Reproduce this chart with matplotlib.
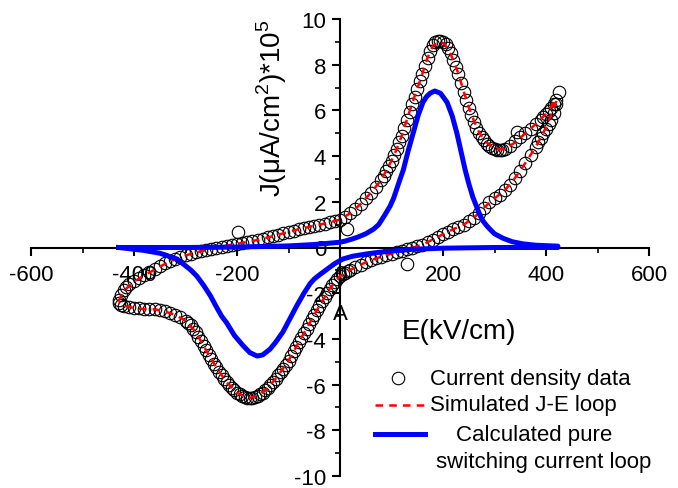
import matplotlib
matplotlib.use("Agg")
import matplotlib.pyplot as plt
from matplotlib.ticker import MultipleLocator, FixedLocator

plt.rcParams['font.family'] = ['Liberation Sans', 'DejaVu Sans']
plt.rcParams['axes.unicode_minus'] = False
plt.rcParams['mathtext.fontset'] = 'custom'
plt.rcParams['mathtext.rm'] = 'Liberation Sans'

# Measured current density, field sweep up (kV/cm, uA/cm^2 *1e5)
e_up = [-430, -425, -420, -415, -410, -400, -390, -380, -370, -360, -350, -340,
        -330, -320, -310, -300, -290, -280, -270, -260, -250, -240, -230, -220,
        -210, -200, -198, -190, -180, -170, -160, -150, -140, -130, -120, -110,
        -100, -90, -80, -70, -60, -50, -40, -30, -20, -10, 0, 10, 13, 20, 30,
        40, 50, 60, 70, 80, 85, 90, 95, 100, 105, 110, 115, 120, 125, 130, 135,
        140, 145, 150, 155, 160, 165, 170, 175, 180, 185, 190, 195, 200, 205,
        210, 215, 220, 225, 230, 235, 240, 245, 250, 255, 260, 265, 270, 275,
        280, 285, 290, 295, 300, 305, 310, 315, 320, 330, 340, 344, 350, 360,
        370, 380, 390, 395, 400, 405, 410, 415, 420, 425]
j_up = [-2.3, -2.1, -1.85, -1.72, -1.6, -1.45, -1.32, -1.2, -1.08, -0.95, -0.83, -0.7,
        -0.6, -0.5, -0.4, -0.33, -0.27, -0.2, -0.15, -0.1, -0.06, 0.0, 0.04, 0.08,
        0.12, 0.16, 0.68, 0.2, 0.24, 0.28, 0.33, 0.38, 0.44, 0.5, 0.56, 0.62,
        0.68, 0.74, 0.8, 0.85, 0.9, 0.95, 1.0, 1.05, 1.1, 1.15, 1.22, 1.35, 0.8, 1.5, 1.7,
        1.9, 2.15, 2.4, 2.65, 2.95, 3.15, 3.35, 3.55, 3.8, 4.05, 4.3, 4.6, 4.9, 5.25, 5.6, 5.95,
        6.3, 6.6, 6.95, 7.3, 7.6, 7.95, 8.3, 8.6, 8.85, 9.0, 9.05, 9.05, 9.0, 8.9,
        8.75, 8.5, 8.2, 7.9, 7.6, 7.2, 6.8, 6.45, 6.1, 5.8, 5.5, 5.25, 5.0, 4.85,
        4.7, 4.55, 4.45, 4.35, 4.3, 4.25, 4.25, 4.27, 4.3, 4.45, 4.65, 5.05, 4.85, 5.0,
        5.2, 5.4, 5.6, 5.72, 5.85, 5.97, 6.1, 6.27, 6.45, 6.8]

# Measured current density, field sweep down
e_down = [420, 415, 410, 405, 400, 395, 390, 385, 380, 370, 360, 350, 340, 330,
          320, 310, 300, 290, 280, 270, 260, 250, 240, 230, 220, 210, 200, 190,
          180, 170, 160, 150, 140, 130, 130, 120, 110, 100, 90, 80, 70, 60, 50,
          40, 30, 20, 15, 10, 5, 0, -5, -10, -15, -20, -25, -30, -35, -40, -45,
          -50, -55, -60, -65, -70, -75, -80, -85, -90, -95, -100, -105, -110,
          -115, -120, -125, -130, -135, -140, -145, -150, -155, -160, -165, -170,
          -175, -180, -185, -190, -195, -200, -205, -210, -215, -220, -225, -230,
          -235, -240, -245, -250, -255, -260, -265, -270, -275, -280, -285, -290,
          -295, -300, -310, -320, -330, -340, -350, -360, -370, -380, -390, -400,
          -410, -420, -425, -430]
j_down = [6.3, 5.9, 5.6, 5.4, 5.2, 5.0, 4.8, 4.6, 4.4, 4.05, 3.7, 3.35, 3.05, 2.75,
          2.5, 2.3, 2.15, 2.0, 1.75, 1.5, 1.3, 1.15, 1.0, 0.9, 0.8, 0.7, 0.58, 0.47,
          0.35, 0.23, 0.12, 0.05, -0.02, -0.08, -0.72, -0.14, -0.2, -0.27, -0.33, -0.4,
          -0.48, -0.56, -0.65,
          -0.75, -0.86, -0.98, -1.04, -1.1, -1.17, -1.25, -1.37, -1.5, -1.65, -1.8, -1.97,
          -2.15, -2.35, -2.55, -2.75,
          -2.95, -3.15, -3.35, -3.55, -3.75, -3.95, -4.15, -4.35, -4.55, -4.75, -4.95,
          -5.13, -5.3,
          -5.45, -5.6, -5.75, -5.9, -6.03, -6.15, -6.25, -6.35, -6.43, -6.5, -6.55, -6.6,
          -6.6, -6.6, -6.55, -6.5, -6.43, -6.35, -6.25, -6.15, -6.03, -5.9, -5.75, -5.6,
          -5.43, -5.25, -5.08, -4.9, -4.7, -4.5, -4.3, -4.1, -3.9, -3.7, -3.55, -3.4,
          -3.3, -3.2, -3.05, -2.95, -2.85, -2.8, -2.75, -2.7, -2.7, -2.7, -2.65, -2.65,
          -2.6, -2.55, -2.5, -2.45]

# Simulated J-E loop
sim_e_up = [-430, -420, -400, -380, -360, -340, -320, -300, -280, -260, -240, -220,
            -200, -180, -160, -140, -120, -100, -80, -60, -40, -20, 0, 20, 40, 60,
            80, 100, 110, 120, 130, 140, 150, 160, 170, 180, 190, 200, 210, 220,
            230, 240, 250, 260, 270, 280, 300, 320, 340, 360, 380, 400, 420]
sim_j_up = [-2.35, -1.9, -1.5, -1.22, -0.97, -0.72, -0.52, -0.35, -0.22, -0.11, -0.01, 0.08,
            0.16, 0.24, 0.33, 0.44, 0.56, 0.68, 0.8, 0.9, 1.0, 1.1, 1.22, 1.5, 1.9, 2.4,
            2.95, 3.8, 4.3, 4.9, 5.6, 6.3, 6.95, 7.6, 8.3, 8.8, 9.0, 8.95, 8.7, 8.2,
            7.6, 6.85, 6.15, 5.55, 5.05, 4.7, 4.3, 4.3, 4.6, 5.0, 5.4, 5.85, 6.5]
sim_e_down = [420, 400, 380, 360, 340, 320, 300, 280, 260, 240, 220, 200, 180, 160,
              140, 120, 100, 80, 60, 40, 20, 0, -20, -40, -60, -80, -100, -120, -140,
              -160, -180, -200, -220, -240, -260, -280, -300, -320, -340, -360, -380,
              -400, -420, -430]
sim_j_down = [6.4, 5.25, 4.4, 3.7, 3.05, 2.5, 2.15, 1.75, 1.3, 1.0, 0.8, 0.58, 0.35, 0.12,
              -0.02, -0.14, -0.27, -0.4, -0.56, -0.75, -0.98, -1.25, -1.8, -2.55, -3.35,
              -4.15, -4.95, -5.6, -6.15, -6.5, -6.6, -6.35, -5.9, -5.25, -4.5, -3.7, -3.2,
              -2.95, -2.8, -2.7, -2.7, -2.65, -2.55, -2.4]

# Calculated pure switching current
sw_e_up = [-430, -300, -200, -100, -50, 0, 10, 25, 35, 50, 65, 75, 85, 97, 104, 110,
           116, 123, 132, 142, 152, 161, 168, 175, 184, 195, 200, 208, 218, 227, 235,
           243, 250, 258, 265, 272, 278, 285, 292, 300, 317, 335, 355, 380, 400, 423]
sw_j_up = [0.0, 0.0, 0.02, 0.07, 0.13, 0.23, 0.28, 0.38, 0.46, 0.6, 0.8, 1.0, 1.35, 1.8,
           2.15, 2.55, 2.95, 3.4, 4.2, 5.0, 5.8, 6.35, 6.6, 6.75, 6.85, 6.75, 6.6, 6.35,
           5.75, 5.0, 4.2, 3.4, 2.8, 2.2, 1.8, 1.4, 1.15, 0.95, 0.78, 0.6, 0.4, 0.25,
           0.16, 0.1, 0.08, 0.06]
sw_e_down = [423, 300, 200, 140, 110, 80, 52, 25, 6, -10, -25, -40, -50, -58, -70, -84,
             -98, -111, -125, -136, -150, -161, -175, -188, -205, -220, -230, -240,
             -252, -265, -278, -290, -300, -317, -340, -350, -370, -383, -400, -410, -430]
sw_j_down = [0.0, 0.0, -0.03, -0.08, -0.14, -0.2, -0.28, -0.38, -0.5, -0.7, -0.95, -1.2,
             -1.38, -1.58, -2.0, -2.55, -3.15, -3.7, -4.15, -4.45, -4.7, -4.75, -4.6, -4.3,
             -3.85, -3.3, -3.0, -2.6, -2.1, -1.65, -1.25, -0.98, -0.8, -0.5, -0.32, -0.25,
             -0.17, -0.12, -0.08, -0.05, 0.0]

x_ticks = [-600, -400, -200, 0, 200, 400, 600]
y_ticks = [-10, -8, -6, -4, -2, 0, 2, 4, 6, 8, 10]

fig = plt.figure(figsize=(6.78, 4.89), dpi=100)
ax = fig.add_axes([31 / 678, 12 / 489, 618 / 678, 457 / 489])
ax.set_xlim(-600, 600)
ax.set_ylim(-10, 10)

for side in ('top', 'right'):
    ax.spines[side].set_visible(False)
for side in ('left', 'bottom'):
    ax.spines[side].set_position(('data', 0))
    ax.spines[side].set_linewidth(1.5)
    ax.spines[side].set_zorder(1)
ax.set_axisbelow(True)

ax.xaxis.set_major_locator(FixedLocator(x_ticks))
ax.yaxis.set_major_locator(FixedLocator(y_ticks))
ax.xaxis.set_minor_locator(MultipleLocator(100))
ax.yaxis.set_minor_locator(MultipleLocator(1))
ax.tick_params(which='major', length=6, width=1.5, labelsize=16)
ax.tick_params(which='minor', length=3.5, width=1.2)
ax.tick_params(axis='x', which='major', pad=6)
ax.tick_params(axis='y', which='major', pad=4)

ax.plot(e_up + e_down, j_up + j_down, linestyle='none', marker='o', markersize=9,
        markerfacecolor='none', markeredgecolor='black', markeredgewidth=0.8, zorder=3)
ax.plot(sim_e_up + sim_e_down, sim_j_up + sim_j_down, color='#ff0000', linewidth=1.8,
        dashes=(3, 2.5), zorder=4)
ax.plot(sw_e_up + sw_e_down, sw_j_up + sw_j_down, color='#0000ff', linewidth=3.6,
        zorder=5)

ax.text(-132, 6.15, r'J(μA/cm$^{\mathregular{2}}$)*10$^{\mathregular{5}}$', rotation=90,
        ha='center', va='center', fontsize=20)
ax.text(120, -3.65, 'E(kV/cm)', ha='left', va='center', fontsize=20)
ax.text(0, -2.87, 'A', ha='center', va='center', fontsize=16)

# legend drawn by hand in axes coordinates
tr = ax.transAxes
ax.plot([0.594], [0.2144], transform=tr, marker='o', markersize=9, markerfacecolor='none',
        markeredgecolor='black', markeredgewidth=0.8, linestyle='none', clip_on=False)
ax.plot([0.5566, 0.6375], [0.1554, 0.1554], transform=tr, color='#ff0000', linewidth=1.8,
        dashes=(3, 2.5), clip_on=False)
ax.plot([0.5566, 0.6375], [0.0919, 0.0919], transform=tr, color='#0000ff', linewidth=3.6,
        clip_on=False)
ax.text(0.6456, 0.2144, 'Current density data', transform=tr, ha='left', va='center',
        fontsize=16)
ax.text(0.6456, 0.1554, 'Simulated J-E loop', transform=tr, ha='left', va='center',
        fontsize=16)
ax.text(0.814, 0.0919, 'Calculated pure', transform=tr, ha='center', va='center',
        fontsize=16)
ax.text(0.830, 0.0328, 'switching current loop', transform=tr, ha='center', va='center',
        fontsize=16)

fig.savefig('out.png', dpi=100)
